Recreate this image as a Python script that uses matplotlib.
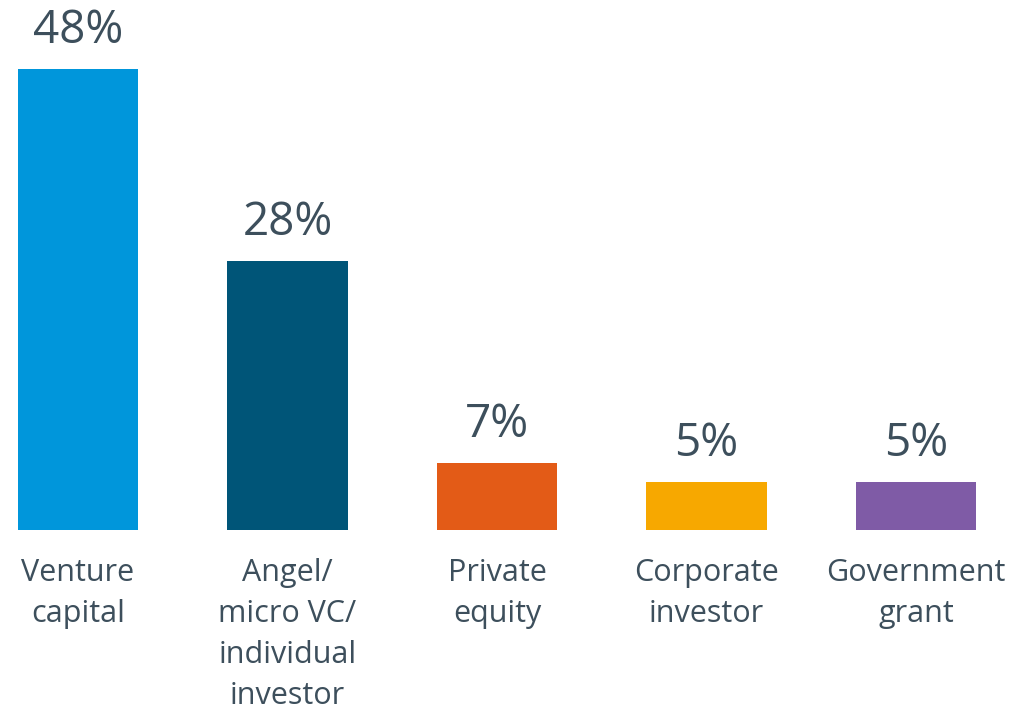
import matplotlib
matplotlib.use('Agg')
import matplotlib.pyplot as plt

# data
categories = ['Venture\ncapital', 'Angel/\nmicro VC/\nindividual\ninvestor',
              'Private\nequity', 'Corporate\ninvestor', 'Government\ngrant']
values = [48, 28, 7, 5, 5]
colors = ['#0096DB', '#005578', '#E35B17', '#F7A800', '#7F5BA6']

text_color = '#3D4F5C'
plt.rcParams['font.family'] = ['Open Sans', 'DejaVu Sans']

fig = plt.figure(figsize=(10.19, 7.12), dpi=100)
ax = fig.add_axes([0, 182 / 712, 1, 530 / 712])

x = list(range(len(values)))
bars = ax.bar(x, values, width=0.573, color=colors)

ax.set_xlim(-78 / 209.5, (1019 - 78) / 209.5)
ax.set_ylim(0, 530 / 9.6)

for b, v in zip(bars, values):
    ax.annotate(f'{v}%', (b.get_x() + b.get_width() / 2, v),
                xytext=(0, 11), textcoords='offset points',
                ha='center', va='bottom', fontsize=33, color=text_color)

ax.set_xticks(x)
ax.set_xticklabels(categories, fontsize=22, color=text_color, linespacing=1.48)
ax.tick_params(axis='x', length=0, pad=20)
ax.set_yticks([])
for s in ax.spines.values():
    s.set_visible(False)

fig.savefig('out.png', dpi=100)
